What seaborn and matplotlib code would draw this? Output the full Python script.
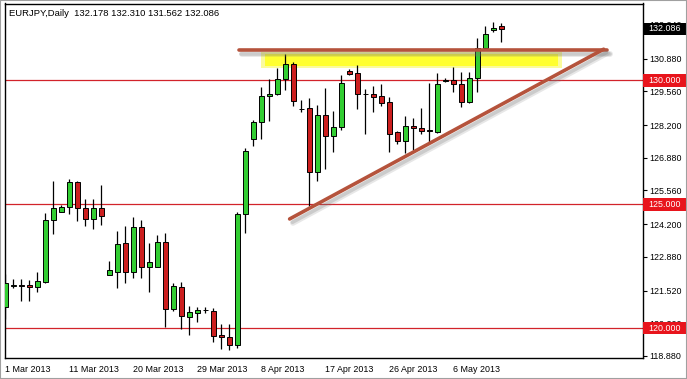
import numpy as np
import pandas as pd
import matplotlib
matplotlib.use("Agg")
import matplotlib.pyplot as plt
import matplotlib.patheffects as pe
import matplotlib.transforms as mtransforms
from matplotlib.patches import Rectangle
import seaborn as sns

# ---------------- data ----------------
dates = [d for d in pd.date_range("2013-03-01", "2013-05-13") if d.dayofweek != 5]

opens = [120.86, 121.72, 121.74, 121.74, 121.68, 121.88, 124.37, 124.68, 124.88, 125.89,
         124.84, 124.40, 124.84, 122.15, 122.28, 123.43, 122.26, 124.10, 122.46, 122.48,
         123.48, 120.76, 121.68, 120.47, 120.63, 120.73, 120.71, 119.73, 119.63, 119.32,
         124.61, 127.65, 128.31, 129.37, 129.44, 130.05, 130.66, 128.86, 128.88, 126.32,
         128.59, 127.77, 128.13, 130.38, 130.29, 129.46, 129.45, 129.37, 129.11, 127.91,
         127.57, 128.16, 128.07, 127.98, 127.93, 129.98, 130.01, 129.84, 129.12, 130.09,
         131.32, 132.02, 132.178]
highs = [122.19, 121.97, 121.97, 121.95, 122.26, 124.66, 125.94, 124.99, 126.02, 125.94,
         125.20, 125.20, 125.78, 122.71, 123.92, 124.13, 124.48, 124.37, 123.43, 123.76,
         123.86, 121.81, 121.85, 120.91, 120.87, 120.87, 120.83, 120.17, 120.17, 124.68,
         127.26, 128.40, 129.75, 130.05, 130.49, 131.07, 130.74, 129.21, 129.28, 129.01,
         129.68, 128.78, 130.22, 130.47, 130.62, 129.65, 129.79, 129.86, 129.35, 127.95,
         128.58, 128.50, 128.88, 129.88, 130.29, 130.09, 130.55, 130.33, 130.35, 131.70,
         132.21, 132.35, 132.310]
lows = [120.37, 121.62, 121.11, 121.11, 121.47, 121.84, 123.79, 124.68, 124.60, 124.34,
        124.14, 124.02, 124.17, 122.15, 121.61, 121.81, 122.02, 122.02, 121.45, 122.48,
        120.06, 120.71, 119.96, 119.74, 120.27, 120.60, 119.46, 119.15, 119.12, 119.19,
        123.83, 127.35, 127.64, 128.37, 129.40, 129.61, 128.97, 128.74, 124.93, 125.95,
        126.41, 127.12, 128.00, 130.22, 128.84, 127.83, 128.74, 128.98, 127.10, 127.44,
        127.06, 127.19, 127.84, 127.53, 127.87, 129.94, 129.55, 128.94, 129.10, 129.55,
        131.24, 131.97, 131.562]
closes = [121.84, 121.74, 121.72, 121.68, 121.90, 124.37, 124.84, 124.88, 125.89, 124.84,
          124.40, 124.84, 124.53, 122.35, 123.40, 122.26, 124.10, 122.46, 122.66, 123.48,
          120.76, 121.70, 120.49, 120.64, 120.72, 120.75, 119.70, 119.63, 119.32, 124.61,
          127.15, 128.32, 129.37, 129.45, 130.05, 130.66, 129.18, 128.84, 126.32, 128.59,
          127.77, 128.13, 129.88, 130.26, 129.47, 129.44, 129.35, 129.10, 127.83, 127.57,
          128.16, 128.07, 127.97, 127.95, 129.84, 130.00, 129.86, 129.12, 130.09, 131.32,
          131.86, 132.13, 132.086]

level_lines = [120.0, 125.0, 130.0]
ytick_values = [118.88, 120.20, 121.52, 122.88, 124.20, 125.56, 126.88, 128.20, 129.56, 130.88, 132.24]
xtick_labels = ["1 Mar 2013", "11 Mar 2013", "20 Mar 2013", "29 Mar 2013",
                "8 Apr 2013", "17 Apr 2013", "26 Apr 2013", "6 May 2013"]
xtick_dates = ["2013-03-01", "2013-03-11", "2013-03-20", "2013-03-29",
               "2013-04-08", "2013-04-17", "2013-04-26", "2013-05-06"]
header = "EURJPY,Daily  132.178 132.310 131.562 132.086"

# drawn objects (bar index / price)
resist_x = [29.16, 75.2]
resist_y = [131.21, 131.21]
trend_x = [35.54, 74.79]
trend_y = [124.41, 131.26]
zone_x = [31.96, 69.6]
zone_y = [130.49, 131.16]

# ---------------- figure ----------------
sns.set_style("white")
plt.rcParams['font.family'] = ['Liberation Sans', 'DejaVu Sans']

W, H = 687, 379
fig = plt.figure(figsize=(W / 100, H / 100), dpi=100)
ax_l, ax_r, ax_t, ax_b = 4.5, 643, 3.5, 358
ax = fig.add_axes([ax_l / W, 1 - ax_b / H, (ax_r - ax_l) / W, (ax_b - ax_t) / H])

df = pd.DataFrame({"date": dates, "open": opens, "high": highs, "low": lows, "close": closes})
df["idx"] = np.arange(len(df))
df["up"] = df["close"] >= df["open"]
df["bottom"] = df[["open", "close"]].min(axis=1)
df["height"] = (df["close"] - df["open"]).abs()

# level lines
for lv in level_lines:
    ax.axhline(lv, color="#d2232a", lw=0.9, zorder=1)

# yellow zone with soft edges
ax.add_patch(Rectangle((zone_x[0], zone_y[0]), zone_x[1] - zone_x[0], zone_y[1] - zone_y[0],
                       facecolor="#fbfb9c", edgecolor="none", zorder=1.5))
ax.add_patch(Rectangle((zone_x[0] + 0.5, zone_y[0] + 0.1), zone_x[1] - zone_x[0] - 1.0,
                       zone_y[1] - zone_y[0] - 0.2,
                       facecolor="#ffff30", edgecolor="none", zorder=1.6))

# wicks
ax.vlines(df["idx"], df["low"], df["high"], color="black", lw=0.9, zorder=2)
# bodies
colors = np.where(df["up"], "#32cd32", "#cc1f1f")
ax.bar(df["idx"], df["height"], bottom=df["bottom"], width=0.62, color=colors,
       edgecolor="black", linewidth=0.7, zorder=3)

# drawn lines with soft shadow
shadow = [pe.SimpleLineShadow(offset=(2.4, -2.8), shadow_color="#7a7a7a", alpha=0.18, linewidth=4.2),
          pe.SimpleLineShadow(offset=(2.0, -2.4), shadow_color="#7a7a7a", alpha=0.25),
          pe.Normal()]
sns.lineplot(x=resist_x, y=resist_y, ax=ax, color="#b5533c", lw=2.6, zorder=5,
             path_effects=shadow)
sns.lineplot(x=trend_x, y=trend_y, ax=ax, color="#b5533c", lw=2.6, zorder=5,
             path_effects=shadow)

ax.set_xlim(-0.1, 79.71)
ax.set_ylim(118.799, 133.105)

# axes styling
for s in ax.spines.values():
    s.set_color("black")
    s.set_linewidth(1.0)
ax.yaxis.tick_right()
ax.set_yticks(ytick_values)
ax.set_yticklabels([f"{v:.3f}" for v in ytick_values])
tick_pos = [dates.index(pd.Timestamp(d)) for d in xtick_dates]
ax.set_xticks(tick_pos)
ax.set_xticklabels(xtick_labels)
for lab in ax.get_xticklabels():
    lab.set_horizontalalignment("left")
ax.tick_params(axis="both", direction="out", length=3, width=0.8, color="black",
               labelsize=6.4, labelcolor="black")
ax.tick_params(axis="y", pad=1.5)
ax.tick_params(axis="x", pad=2)
ax.set_xlabel("")
ax.set_ylabel("")

# price labels on the right
blend = mtransforms.blended_transform_factory(ax.transAxes, ax.transData)
axw = ax_r - ax_l
ppu = (ax_b - ax_t) / (133.105 - 118.799)
def price_box(value, face):
    hh = 6.2 / ppu
    ax.add_patch(Rectangle((1.0, value - hh), 43 / axw, 2 * hh, transform=blend,
                           facecolor=face, edgecolor="none", clip_on=False, zorder=10))
    ax.text(1.0 + 5 / axw, value, f"{value:.3f}", transform=blend, color="white",
            fontsize=6.4, va="center", ha="left", clip_on=False, zorder=11)

for lv in level_lines:
    price_box(lv, "#e8141c")
price_box(closes[-1], "black")

fig.text(9 / W, 1 - 13 / H, header, fontsize=6.8, va="center", ha="left", color="black")

fig.patches.append(Rectangle((0, 0), 1, 1, transform=fig.transFigure, fill=False,
                             edgecolor="#a0a0a0", lw=1.5))

fig.savefig("out.png", dpi=100)
